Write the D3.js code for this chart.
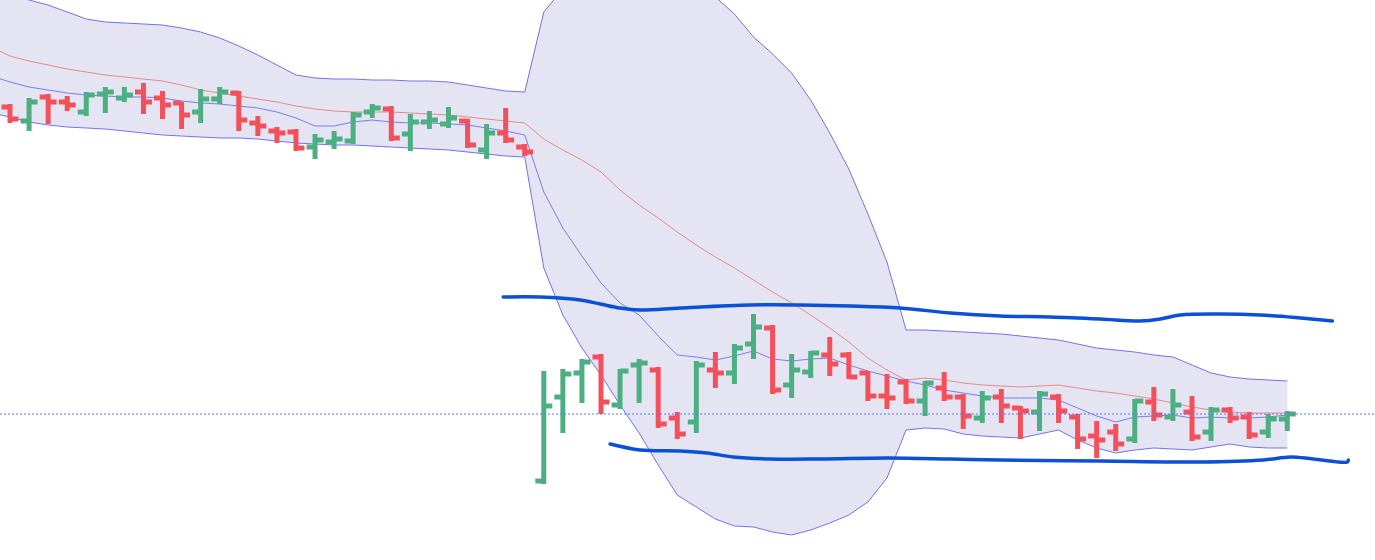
<!DOCTYPE html>
<html><head><meta charset="utf-8">
<script src="https://cdn.jsdelivr.net/npm/d3@7"></script>
<style>html,body{margin:0;padding:0;background:#fff;overflow:hidden}</style>
</head><body><svg id="chart" width="1375" height="560"></svg>
<script>
// ---- OHLC bars (index 0..67) ----
const opens  = [98.6,95.8,100.6,99.6,97.6,101.2,100.4,101.6,100.4,99.4, 97.6,100.2,101.4,95.4,93.8,93.6,90.6,91.6,91.8,97.6, 98.2,93.2,95.6,95.2,95.8,90.0,93.4,90.6,23.8,40.6, 45.4,48.6,39.0,47.0,46.0,36.4,35.6,46.0,45.4,51.2, 54.4,43.0,45.6,49.0,49.0,45.4,40.8,43.6,39.8,42.4, 40.6,36.4,40.6,38.4,37.6,40.6,36.6,32.8,33.6,32.2, 39.6,36.6,37.6,33.6,38.0,36.6,33.6,36.2];
const highs  = [99.0,100.2,101.0,100.6,101.4,102.4,102.4,103.2,101.6,99.4, 102.0,102.4,101.6,96.6,94.4,94.0,93.0,93.6,97.4,99.0, 98.6,97.0,97.6,98.4,96.0,95.0,98.2,91.0,45.6,46.0, 48.0,49.0,46.0,48.0,46.4,37.4,47.6,49.4,51.0,57.0, 54.8,49.0,49.6,52.4,49.4,45.6,45.0,44.0,43.6,45.4, 41.0,41.6,42.0,38.6,41.6,41.0,37.0,35.6,35.0,40.0, 42.4,42.0,40.6,38.4,38.4,37.4,37.0,37.6];
const lows   = [95.6,94.0,95.4,98.0,97.0,97.6,99.8,97.4,96.4,94.4, 95.6,99.4,94.0,93.0,91.6,90.0,88.4,90.4,91.4,96.6, 92.0,90.0,94.4,94.6,90.6,88.4,91.6,89.0,23.4,33.6, 39.6,37.4,38.4,39.6,34.6,32.4,33.6,42.6,43.4,48.4, 41.4,40.6,44.6,45.0,44.4,40.0,38.4,39.4,37.0,40.0, 34.4,35.6,35.6,32.4,34.0,35.6,30.4,28.6,30.0,31.6, 36.0,36.0,32.0,32.0,35.6,32.4,32.6,34.0];
const closes = [96.2,99.6,99.6,99.0,101.0,101.6,101.0,99.6,99.0,97.0, 100.2,101.6,96.0,94.8,93.4,90.4,92.0,92.2,97.0,98.4, 92.4,95.6,96.0,96.4,91.0,93.4,92.0,89.6,38.8,45.2, 47.6,39.6,45.8,47.4,35.2,33.2,47.0,45.4,50.4,54.6, 42.0,46.0,49.4,47.2,44.6,40.8,40.4,39.8,43.4,40.6, 36.8,40.4,38.8,37.8,41.2,37.8,32.2,32.0,31.2,39.8, 37.0,39.0,32.6,38.0,36.4,33.0,36.2,37.2];

// ---- band series (index -1..67) ----
const bandStart = -1;
const bandUpper = [122.4,121.2,120,119,117.6,116.2,115.6,115.4,115.2,115, 114.4,113.6,112.4,110.8,109,107,105,104.4,104.2,104.2, 104,104,103.8,103.8,103.6,103,102.4,101.8,101.6,
  117.6,122.2,124.4,126.2,125,123.8,125,125.8,123.4,120.6, 117.2,112.6,109.2,105.4,100,93.4,86.2,77.2,67.6,54,
  54,53.8,53.6,53.4,53.2,52.8,52.4,52,51.2,50.4, 50,49.6,49,48.6,47,45.4,44.6,44.2,44,43.8];
const bandMiddle = [110.6,108.8,107.8,107,106.2,105.6,105,104.6,104.2,103.8, 103,102,101.4,100.8,100.2,99.6,98.8,98.2,97.8,97.6, 97.6,97.6,97.4,97.2,97,96.6,96.2,95.8,95.4,
  92.2,90,88,85.6,82,79,76.4,73.6,71,68.6, 66.4,64,61.6,59.4,57,54.4,51.6,48.4,46,44,
  44.4,44,43.4,43,42.8,42.6,42.8,43,42.4,41.8, 41.4,40.8,40.2,39.4,38.6,38,37.6,37.4,37.4,37.4];
const fastAverage = [104.8,103.6,102.6,102,101.4,101,100.8,100.6,100.6,100.4, 99.8,99.4,99.2,98.8,98.4,97.6,96.4,94.8,94.8,95.6, 96,95.6,95.4,95.4,95.2,95,94.4,93.8,93,
  81.6,74.4,68.8,63.4,59.4,57,52.8,49,48.6,48, 48.8,49.8,48.2,47.8,48.2,48.4,47,45.8,44.8,43.8,
  43,42,41.4,40.8,40.4,40.4,40.4,40,38.4,36.8, 35.6,36.6,36.8,37,36.4,36.6,36.4,36.4,36.6,37];
const bandLower = [97.4,96.6,95.6,95,94.6,94.4,94.2,93.8,93.4,93, 92.8,92.6,92.4,92.4,92.2,91.8,91.4,91.2,91,91, 90.8,90.6,90.4,90.2,90,89.6,89.2,88.8,88.6,
  66.4,57,50.4,45,39,33.4,27,21,18.6,16.2, 14.8,14.6,13.6,13,14,15.4,17,19.6,24.4,34,
  34.4,34.2,33.2,32.8,32.6,32.4,33.2,34,32,30.4, 29.4,30,30.4,30.2,30,30.6,31.2,30.6,30.4,30.4];

// ---- hand-drawn annotation lines (bar index, price) ----
const upperTrendIdx = [25.87,27.81,29.91,30.96,32.00,33.05,35.15,38.82,41.45,44.07,46.69,49.32,51.94,54.56,57.19,59.29,60.34,61.38,63.48,65.58,67.68,69.36];
const upperTrendVal = [60.6,60.6,60.0,59.2,58.4,58.0,58.4,59.0,59.0,58.8,58.4,57.4,56.8,56.6,56.2,55.8,56.2,57.0,57.2,57.0,56.4,55.8];
const lowerTrendIdx = [31.48,33.05,35.15,36.57,37.93,39.87,42.50,46.01,49.32,51.94,57.19,62.43,65.74,67.16,68.36,70.15,70.2];
const lowerTrendVal = [31.2,30.0,29.8,29.4,28.6,28.2,28.2,28.4,28.2,28.0,27.8,27.6,28.0,28.6,28.2,27.6,28.0];

const W = 1375, H = 560;
const svg = d3.select('#chart');
const x = d3.scaleLinear().domain([-0.525, 71.6]).range([0, W]);
const y = d3.scaleLinear().domain([8, 120]).range([H, 0]);

const band = bandUpper.map((u, i) => ({i: i + bandStart, u, m: bandMiddle[i], f: fastAverage[i], l: bandLower[i]}));

svg.append('path').datum(band)
  .attr('d', d3.area().x(d => x(d.i)).y0(d => y(d.l)).y1(d => y(d.u)))
  .attr('fill', '#e4e4f2');

const lineOf = key => d3.line().x(d => x(d.i)).y(d => y(d[key]));
[['u','#7272ee'],['l','#7272ee'],['f','#7c7cf0'],['m','#e88a8a']].forEach(([k,c]) => {
  svg.append('path').datum(band).attr('d', lineOf(k))
    .attr('fill','none').attr('stroke', c).attr('stroke-width', 1);
});

// OHLC bars
const bars = opens.map((o, i) => ({i, o, h: highs[i], l: lows[i], c: closes[i]}));
const up = '#4caf82', down = '#f4505c';
const tick = 8.5, bw = 5;
const g = svg.append('g');
bars.forEach(d => {
  const col = d.c >= d.o ? up : down;
  const cx = x(d.i);
  g.append('line').attr('x1', cx).attr('x2', cx).attr('y1', y(d.h) - 1).attr('y2', y(d.l) + 1)
    .attr('stroke', col).attr('stroke-width', bw);
  g.append('line').attr('x1', cx - tick).attr('x2', cx).attr('y1', y(d.o)).attr('y2', y(d.o))
    .attr('stroke', col).attr('stroke-width', bw);
  g.append('line').attr('x1', cx).attr('x2', cx + tick).attr('y1', y(d.c)).attr('y2', y(d.c))
    .attr('stroke', col).attr('stroke-width', bw);
});

// last price dotted line
svg.append('line').attr('x1', 0).attr('x2', W)
  .attr('y1', y(closes[closes.length-1])).attr('y2', y(closes[closes.length-1]))
  .attr('stroke', '#5b7ae6').attr('stroke-width', 1).attr('stroke-dasharray', '2,2');

// annotation lines
const trend = d3.line().x(d => x(d[0])).y(d => y(d[1])).curve(d3.curveCatmullRom.alpha(0.5));
[[upperTrendIdx, upperTrendVal], [lowerTrendIdx, lowerTrendVal]].forEach(([xi, yv]) => {
  svg.append('path').datum(xi.map((v, k) => [v, yv[k]])).attr('d', trend)
    .attr('fill', 'none').attr('stroke', '#0b50d6').attr('stroke-width', 3.5)
    .attr('stroke-linecap', 'round').attr('stroke-linejoin', 'round');
});
</script>
</body></html>
